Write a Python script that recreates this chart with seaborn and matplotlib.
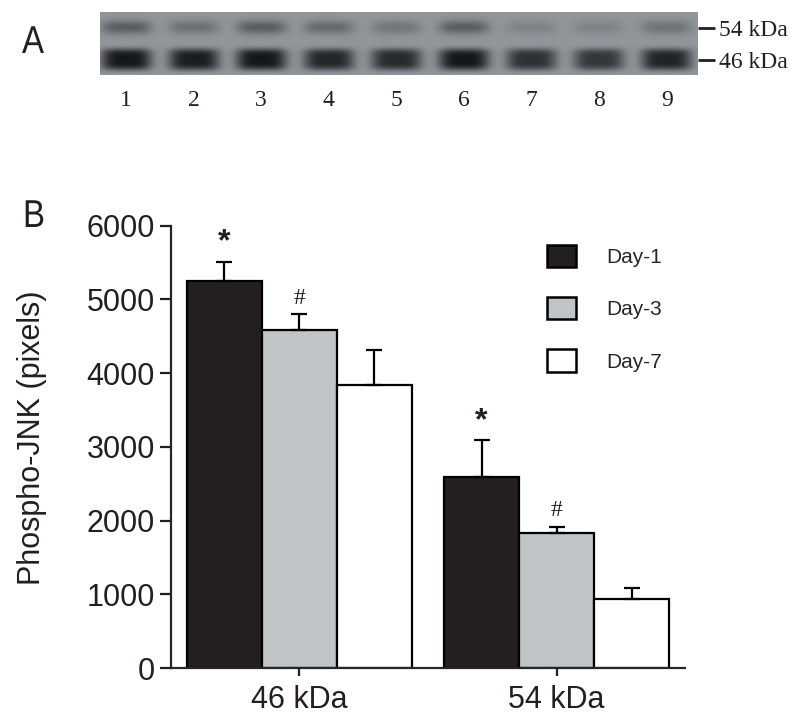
import numpy as np
import pandas as pd
import seaborn as sns
import matplotlib
matplotlib.use("Agg")
import matplotlib.pyplot as plt
import matplotlib.transforms as mtransforms
from matplotlib.patches import Patch, PathPatch
from matplotlib.textpath import TextPath
from matplotlib.font_manager import FontProperties

# ------------------------------------------------------------------------------
# Data
# ------------------------------------------------------------------------------
bands = ["46 kDa", "54 kDa"]
days = ["Day-1", "Day-3", "Day-7"]
mean_46 = [5255, 4586, 3840]
sem_46 = [258, 213, 475]
mean_54 = [2587, 1827, 932]
sem_54 = [507, 90, 150]
marks_46 = ["*", "#", ""]
marks_54 = ["*", "#", ""]

# blot band darkness per lane (0 = background, 1 = darkest)
lanes = ["1", "2", "3", "4", "5", "6", "7", "8", "9"]
band54_dark = [0.45, 0.30, 0.45, 0.35, 0.25, 0.45, 0.15, 0.15, 0.28]
band46_dark = [1.00, 0.95, 1.00, 0.88, 0.85, 1.00, 0.80, 0.75, 0.90]
blot_labels = ["54 kDa", "46 kDa"]

day_colors = ["#231f20", "#c1c4c7", "#ffffff"]

df = pd.DataFrame({
    "band": [b for b in bands for _ in days],
    "day": days * 2,
    "value": mean_46 + mean_54,
    "sem": sem_46 + sem_54,
    "mark": marks_46 + marks_54,
})

# ------------------------------------------------------------------------------
# Figure
# ------------------------------------------------------------------------------
sns.set_style("ticks")
plt.rcParams["font.family"] = ["Liberation Sans", "DejaVu Sans"]
serif = ["Liberation Serif", "DejaVu Serif"]
ink = "#231f20"

fig = plt.figure(figsize=(8, 7.25), dpi=100)

# ---- Panel A: blot -----------------------------------------------------------
axA = fig.add_axes([0.125, 0.8966, 0.7475, 0.0869])
x0, x1 = -0.385, 8.46
xs = np.linspace(x0, x1, 600)
ys = np.linspace(0, 1, 63)
X, Y = np.meshgrid(xs, ys)
dark = np.zeros_like(X)
for i in range(len(lanes)):
    prof_x = np.exp(-((X - i) / 0.37) ** 4)
    dark += band54_dark[i] * prof_x * np.exp(-((Y - 0.25) / 0.11) ** 2)
    dark += band46_dark[i] * prof_x * np.exp(-((Y - 0.76) / 0.17) ** 4)
dark = np.clip(dark, 0, 1)
bg = np.array([0.57, 0.59, 0.61])
fg = np.array([0.08, 0.09, 0.10])
img = bg[None, None, :] * (1 - dark[..., None]) + fg[None, None, :] * dark[..., None]
axA.imshow(img, extent=[x0, x1, 1, 0], aspect="auto", interpolation="bilinear")
axA.set_xlim(x0, x1)
axA.set_ylim(1, 0)
for s in axA.spines.values():
    s.set_visible(False)
axA.set_xticks(range(len(lanes)))
axA.set_xticklabels(lanes, family=serif, fontsize=17, color=ink)
axA.tick_params(axis="x", length=0, pad=11)
axA.yaxis.tick_right()
axA.set_yticks([0.25, 0.76])
axA.set_yticklabels(blot_labels, family=serif, fontsize=17, color=ink)
axA.tick_params(axis="y", length=12, width=2, pad=3, direction="out", colors=ink)

# ---- Panel B: bar chart ------------------------------------------------------
ax = fig.add_axes([0.2134, 0.0786, 0.643, 0.6101])
sns.barplot(data=df, x="band", y="value", hue="day", hue_order=days,
            palette=day_colors, saturation=1, edgecolor="black", linewidth=1.6,
            width=0.875, errorbar=None, legend=False, ax=ax)

for container, day in zip(ax.containers, days):
    for bar, band in zip(container, bands):
        row = df[(df["band"] == band) & (df["day"] == day)].iloc[0]
        xc = bar.get_x() + bar.get_width() / 2
        top = bar.get_height()
        ax.errorbar(xc, top, yerr=[[0], [row["sem"]]], fmt="none", ecolor="black",
                    elinewidth=1.6, capsize=5.5, capthick=1.6, zorder=3)
        if row["mark"] == "*":
            ax.annotate("*", (xc, top + row["sem"]), xytext=(0, 3), textcoords="offset points",
                        ha="center", va="bottom", fontsize=23, fontweight="bold", color=ink)
        elif row["mark"] == "#":
            ax.annotate("#", (xc, top + row["sem"]), xytext=(0, 4), textcoords="offset points",
                        ha="center", va="bottom", fontsize=17, family=serif, color=ink)

ax.set_xlim(-0.5, 1.5)
ax.set_ylim(0, 6000)
ax.set_yticks(range(0, 6001, 1000))
ax.tick_params(axis="y", labelsize=22, length=8, width=1.6, colors=ink)
ax.tick_params(axis="x", labelsize=22, length=6, width=1.6, pad=6, colors=ink)
ax.set_xlabel("")
ax.set_ylabel("Phospho-JNK (pixels)", fontsize=22, color=ink)
ax.yaxis.set_label_coords(-0.24, 0.52)
ax.spines["top"].set_visible(False)
ax.spines["right"].set_visible(False)
ax.spines["left"].set_linewidth(1.6)
ax.spines["bottom"].set_linewidth(1.6)

handles = [Patch(facecolor=c, edgecolor="black", linewidth=1.8) for c in day_colors]
ax.legend(handles, days, loc="upper left", bbox_to_anchor=(547 / 800, 1 - 245 / 725),
          bbox_transform=fig.transFigure, frameon=False, fontsize=15,
          handlelength=1.4, handleheight=1.25, labelspacing=1.45,
          handletextpad=1.45, borderpad=0, borderaxespad=0)

# panel letters, slightly condensed like the original
letter_font = FontProperties(family="Liberation Sans", size=28)
for letter, x_px, y_px in [("A", 22, 53), ("B", 23, 227)]:
    tp = TextPath((0, 0), letter, prop=letter_font)
    tr = (mtransforms.Affine2D().scale(0.85 / 72, 1 / 72)
          .translate(x_px / 100, (725 - y_px) / 100) + fig.dpi_scale_trans)
    fig.add_artist(PathPatch(tp, transform=tr, facecolor=ink, edgecolor="none"))

fig.savefig("out.png", dpi=100)
